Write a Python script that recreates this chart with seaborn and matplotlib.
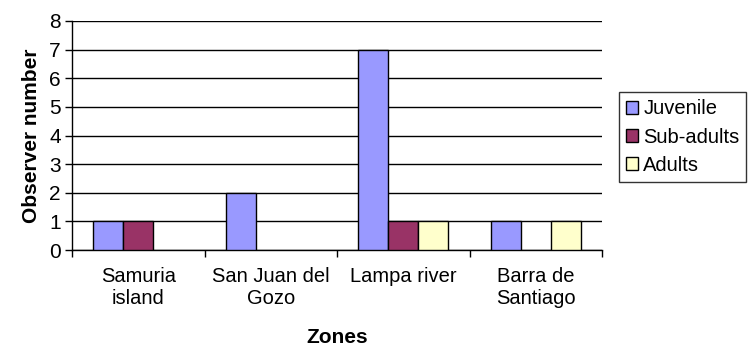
import matplotlib
matplotlib.use("Agg")
import matplotlib.pyplot as plt
import seaborn as sns
import pandas as pd

zones = ["Samuria\nisland", "San Juan del\nGozo", "Lampa river", "Barra de\nSantiago"]
series = ["Juvenile", "Sub-adults", "Adults"]
juvenile = [1, 2, 7, 1]
sub_adults = [1, 0, 1, 0]
adults = [0, 0, 1, 1]
colors = ["#9999FF", "#993366", "#FFFFCC"]

rows = []
for name, vals in zip(series, [juvenile, sub_adults, adults]):
    for z, v in zip(zones, vals):
        rows.append({"Zone": z, "Stage": name, "Count": v})
df = pd.DataFrame(rows)

sns.set_theme(style="white")
plt.rcParams["font.family"] = ["Liberation Sans", "DejaVu Sans"]
plt.rcParams["text.color"] = "black"
plt.rcParams["axes.labelcolor"] = "black"
plt.rcParams["xtick.color"] = "black"
plt.rcParams["ytick.color"] = "black"

fig = plt.figure(figsize=(7.55, 3.47), dpi=100)
ax = fig.add_axes([72/755, 1-250/347, (602-72)/755, (250-21)/347])

sns.barplot(data=df, x="Zone", y="Count", hue="Stage", order=zones,
            hue_order=series, palette=colors, width=0.68, gap=0, saturation=1,
            edgecolor="black", linewidth=1.0, ax=ax, zorder=3)

for cont in ax.containers:
    for p in cont:
        if p.get_height() == 0:
            p.set_linewidth(0)

ax.set_xlim(-0.5, 3.5)
ax.set_ylim(0, 8)
ax.set_yticks(range(0, 9))
ax.yaxis.grid(True, color="black", linewidth=1.0, zorder=0)
ax.set_axisbelow(True)
for s in ["top", "right"]:
    ax.spines[s].set_visible(False)
for s in ["left", "bottom"]:
    ax.spines[s].set_color("black")
    ax.spines[s].set_linewidth(1.0)

ax.set_xticks([-0.5, 0.5, 1.5, 2.5, 3.5], minor=True)
ax.tick_params(axis="x", which="minor", length=5, color="black", width=1, direction="out", bottom=True)
ax.tick_params(axis="x", which="major", length=0, pad=12, labelsize=14.5)
ax.tick_params(axis="y", which="major", length=5, color="black", width=1, direction="out", left=True, labelsize=15, pad=3)
for lbl in ax.get_xticklabels():
    lbl.set_linespacing(1.25)

ax.set_xlabel("Zones", fontsize=15, fontweight="bold", labelpad=14)
ax.set_ylabel("Observer number", fontsize=15, fontweight="bold", labelpad=6)

handles, labels = ax.get_legend_handles_labels()
leg = ax.legend(handles, labels, loc="center left", bbox_to_anchor=(619/755, 1-137/347),
                bbox_transform=fig.transFigure, frameon=True, fancybox=False,
                edgecolor="black", fontsize=14.5, handlelength=0.6, handleheight=0.6,
                handletextpad=0.25, borderpad=0.35, labelspacing=0.45, shadow=False,
                borderaxespad=0)
leg.get_frame().set_linewidth(1.0)
for h in leg.legend_handles:
    h.set_edgecolor("black")
    h.set_linewidth(1.0)

fig.savefig("out.png", dpi=100)
